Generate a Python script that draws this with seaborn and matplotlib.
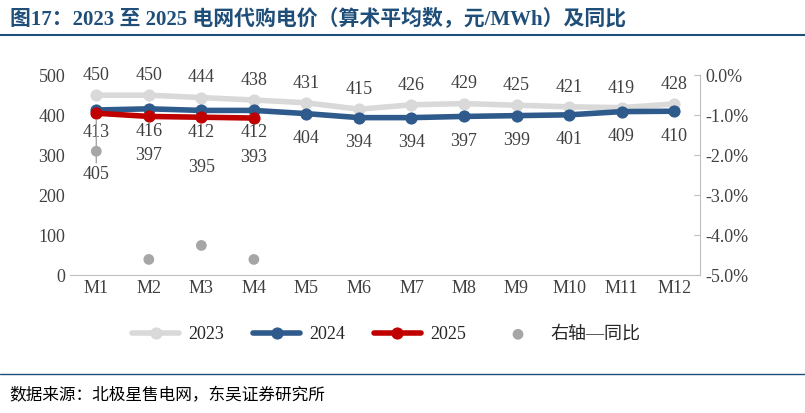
import matplotlib.pyplot as plt
import seaborn as sns
import pandas as pd
from matplotlib.ticker import FuncFormatter

months = ['M1', 'M2', 'M3', 'M4', 'M5', 'M6', 'M7', 'M8', 'M9', 'M10', 'M11', 'M12']
price_2023 = [450, 450, 444, 438, 431, 415, 426, 429, 425, 421, 419, 428]
price_2024 = [413, 416, 412, 412, 404, 394, 394, 397, 399, 401, 409, 410]
price_2025 = [405, 397, 395, 393]
yoy_2025 = [-1.9, -4.6, -4.25, -4.6]

sns.set_style('white')
plt.rcParams['font.family'] = ['Liberation Serif', 'Noto Sans CJK SC']

fig = plt.figure(figsize=(8.05, 4.13), dpi=100)
ax = fig.add_axes([0.087, 0.333, 0.783, 0.485])
ax2 = ax.twinx()

x = list(range(len(months)))
df23 = pd.DataFrame({'x': x, 'y': price_2023})
df24 = pd.DataFrame({'x': x, 'y': price_2024})
df25 = pd.DataFrame({'x': x[:4], 'y': price_2025})
dfy = pd.DataFrame({'x': x[:4], 'y': yoy_2025})

sns.lineplot(data=df23, x='x', y='y', ax=ax, color='#d9d9d9', lw=4, marker='o', ms=8, mec='#d9d9d9', label='2023', legend=False)
sns.lineplot(data=df24, x='x', y='y', ax=ax, color='#2e5a8c', lw=4, marker='o', ms=8, mec='#2e5a8c', label='2024', legend=False)
sns.lineplot(data=df25, x='x', y='y', ax=ax, color='#c00000', lw=4, marker='o', ms=8, mec='#c00000', label='2025', legend=False)
sns.scatterplot(data=dfy, x='x', y='y', ax=ax2, color='#a6a6a6', s=60, edgecolor='none', label='右轴—同比', legend=False)

fs = 13
for i, v in enumerate(price_2023):
    ax.annotate(str(v), (i, v), xytext=(0, 8), textcoords='offset points', ha='center', va='bottom', fontsize=fs, color='#404040')
for i, v in enumerate(price_2024):
    off = -10 if i < 4 else -12
    ax.annotate(str(v), (i, v), xytext=(0, off), textcoords='offset points', ha='center', va='top', fontsize=fs, color='#404040')
for i, v in enumerate(price_2025):
    off = -38 if i == 0 else (-22 if i in (1, 3) else -30)
    arrow = dict(arrowstyle='-', color='#a6a6a6', lw=1, shrinkA=0, shrinkB=5) if i == 0 else None
    ax.annotate(str(v), (i, v), xytext=(0, off), textcoords='offset points', ha='center', va='top', fontsize=fs,
                color='#404040', arrowprops=arrow)

ax.set_xlim(-0.5, 11.5)
ax.set_ylim(0, 500)
ax.set_yticks(range(0, 501, 100))
ax2.set_ylim(-5, 0)
ax2.set_yticks([0, -1, -2, -3, -4, -5])
ax2.yaxis.set_major_formatter(FuncFormatter(lambda v, p: f'{v:.1f}%'))
ax.set_xticks(x)
ax.set_xticklabels(months)
ax.set_xlabel('')
ax.set_ylabel('')
ax2.set_ylabel('')
for a in (ax, ax2):
    a.tick_params(labelsize=13, colors='#404040', length=0)
    for s in a.spines.values():
        s.set_visible(False)
ax.spines['bottom'].set_visible(True)
ax.spines['bottom'].set_color('#bfbfbf')
ax2.spines['right'].set_visible(True)
ax2.spines['right'].set_color('#bfbfbf')
ax2.tick_params(axis='y', length=4, color='#bfbfbf', direction='in')

h1, l1 = ax.get_legend_handles_labels()
h2, l2 = ax2.get_legend_handles_labels()
fig.legend(h1 + h2, l1 + l2, loc='center', bbox_to_anchor=(0.48, 0.19), ncol=4, frameon=False,
           fontsize=13, handlelength=2.6, columnspacing=1.6, handletextpad=0.5)

fig.text(0.012, 0.955, '图17：2023 至 2025 电网代购电价（算术平均数，元/MWh）及同比', fontsize=15,
         fontweight='bold', color='#1f4e79', va='center')
fig.add_artist(plt.Line2D([0.0, 1.0], [0.915, 0.915], color='#1f4e79', lw=1.5))
fig.add_artist(plt.Line2D([0.0, 1.0], [0.095, 0.095], color='#1f4e79', lw=1))
fig.text(0.012, 0.04, '数据来源：北极星售电网，东吴证券研究所', fontsize=12, color='#000000', va='center')

fig.savefig('out.png', dpi=100)
